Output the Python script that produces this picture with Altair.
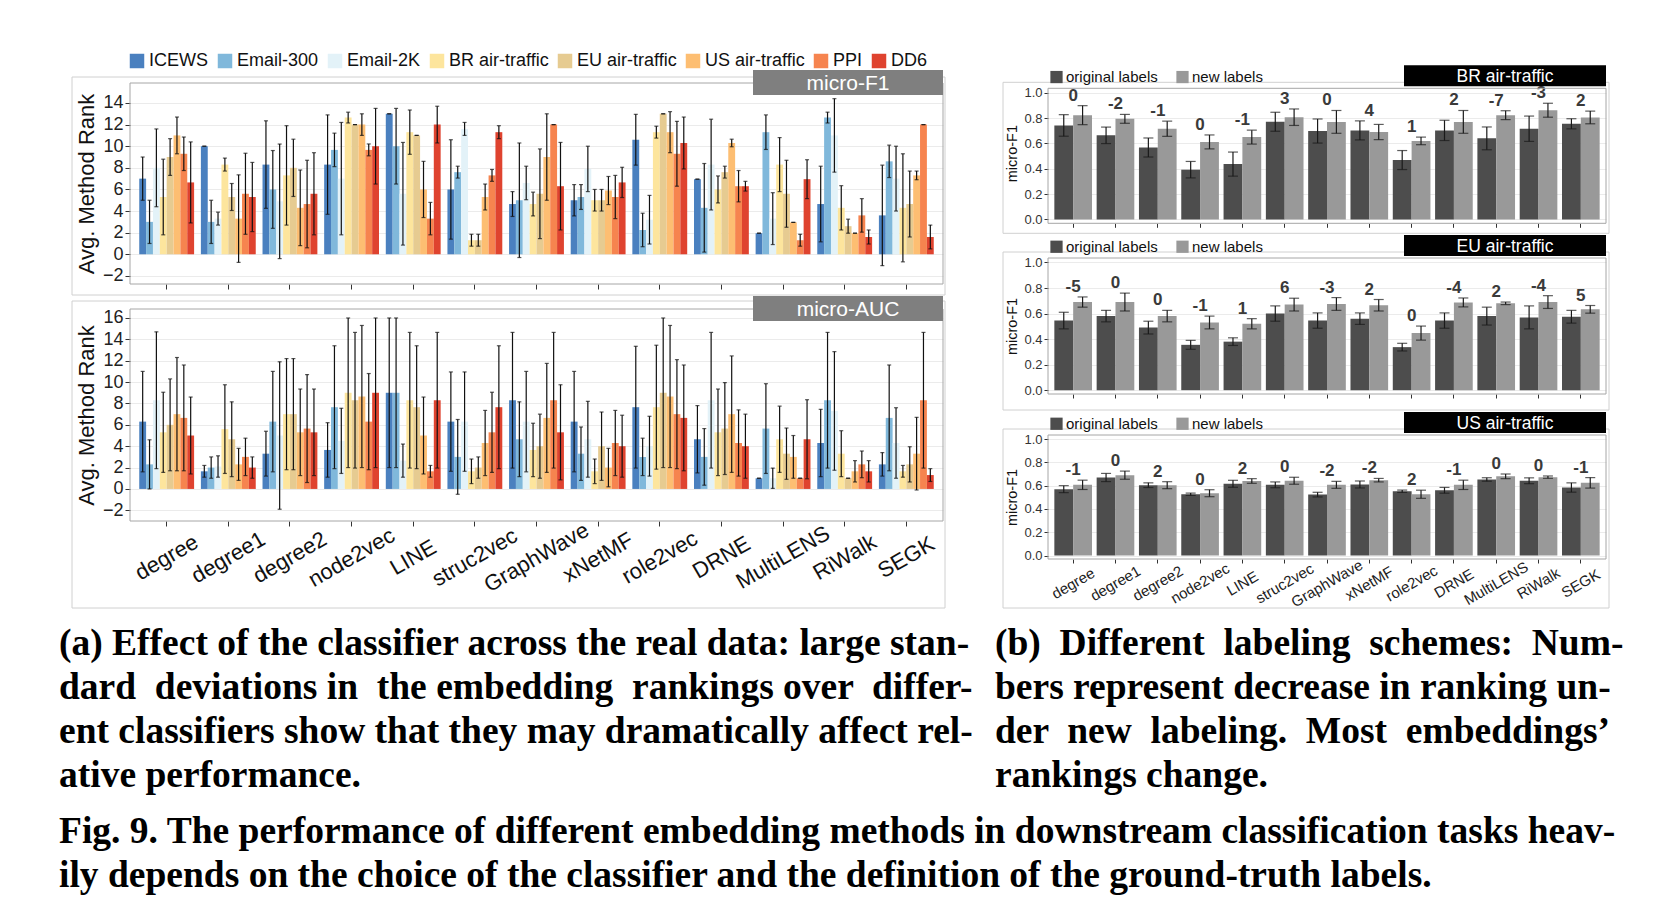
import altair as alt
import pandas as pd

FONT = "Liberation Sans"
SERIF = "Liberation Serif"
NB = "\u00a0"

methods = ["degree", "degree1", "degree2", "node2vec", "LINE", "struc2vec", "GraphWave",
           "xNetMF", "role2vec", "DRNE", "MultiLENS", "RiWalk", "SEGK"]
datasets = ["ICEWS", "Email-300", "Email-2K", "BR air-traffic", "EU air-traffic",
            "US air-traffic", "PPI", "DD6"]
dataset_colors = ["#4a80bf", "#80b8db", "#e3f2f8", "#fde59d", "#e6cb91", "#fdbe72", "#f6844f", "#df432f"]

# ---------------- micro-F1: average method rank (mean, std) ----------------
f1_icews = [7.0, 10.0, 8.3, 8.3, 13.0, 6.0, 4.65, 5.0, 10.6, 6.95, 1.95, 4.65, 3.6]
f1_icews_sd = [2.0, 0.0, 4.05, 4.6, 0.0, 4.6, 1.15, 1.45, 2.35, 0.0, 0.0, 3.5, 4.65]
f1_email300 = [3.0, 3.0, 6.0, 9.66, 10.0, 7.6, 5.0, 5.3, 2.25, 4.3, 11.3, 12.65, 8.6]
f1_email300_sd = [2.0, 2.0, 3.6, 1.55, 3.5, 0.55, 5.3, 1.15, 1.55, 4.1, 1.6, 0.5, 1.5]
f1_email2k = [8.0, 3.3, 4.9, 7.0, 5.6, 11.6, 6.6, 7.9, 3.2, 8.3, 3.3, 11.0, 7.0]
f1_email2k_sd = [3.6, 0.6, 5.3, 5.2, 4.75, 0.6, 1.55, 2.1, 2.25, 4.2, 2.4, 3.4, 3.0]
f1_br = [5.3, 8.3, 7.3, 12.65, 11.3, 1.3, 4.65, 5.0, 11.3, 6.0, 8.3, 4.3, 4.3]
f1_br_sd = [3.5, 0.6, 4.6, 0.5, 2.05, 0.55, 1.1, 1.0, 0.55, 1.25, 2.5, 2.05, 5.0]
f1_eu = [9.0, 5.3, 8.0, 12.0, 11.0, 1.3, 5.6, 5.0, 13.0, 7.6, 5.6, 2.6, 4.65]
f1_eu_sd = [1.7, 1.25, 2.65, 0.0, 0.0, 0.55, 4.15, 1.0, 0.0, 0.55, 3.1, 0.65, 3.05]
f1_us = [11.0, 3.3, 4.3, 12.0, 6.0, 5.3, 9.0, 5.9, 11.3, 10.3, 2.95, 1.95, 7.3]
f1_us_sd = [1.7, 4.05, 3.5, 1.0, 2.6, 1.2, 4.0, 1.3, 1.9, 0.35, 0.0, 0.0, 0.4]
f1_ppi = [9.3, 5.6, 4.65, 9.66, 3.3, 7.3, 12.0, 5.3, 9.3, 6.3, 1.3, 3.6, 12.0]
f1_ppi_sd = [1.55, 3.75, 4.05, 0.55, 1.5, 0.55, 0.0, 2.0, 3.0, 1.45, 0.55, 1.55, 0.0]
f1_dd6 = [6.65, 5.3, 5.6, 10.0, 12.0, 11.3, 6.3, 6.65, 10.3, 6.3, 6.95, 1.6, 1.6]
f1_dd6_sd = [3.75, 3.2, 3.8, 3.5, 1.7, 0.6, 4.05, 1.4, 2.4, 0.45, 1.8, 0.65, 1.1]

# ---------------- micro-AUC: average method rank (mean, std) ----------------
auc_icews = [6.3, 1.65, 3.3, 3.65, 9.0, 6.3, 8.3, 6.3, 7.65, 4.65, 1.0, 4.3, 2.3]
auc_icews_sd = [4.7, 0.55, 2.1, 2.55, 7.0, 4.65, 6.35, 4.7, 5.7, 3.15, 0.0, 3.15, 1.1]
auc_email300 = [2.3, 2.0, 6.3, 7.65, 9.0, 3.0, 4.65, 3.3, 3.0, 3.0, 5.65, 8.3, 6.65]
auc_email300_sd = [2.3, 1.0, 4.7, 5.75, 7.0, 3.5, 3.5, 2.5, 1.75, 2.65, 4.2, 6.35, 4.95]
auc_email2k = [8.3, 2.1, 5.0, 4.5, 2.65, 6.3, 6.3, 4.65, 4.0, 8.3, 1.0, 7.3, 4.3]
auc_email2k_sd = [6.4, 1.0, 6.9, 3.05, 1.55, 4.65, 4.7, 3.55, 2.8, 6.35, 0.95, 5.55, 3.3]
auc_br = [5.3, 5.6, 7.0, 9.0, 8.3, 1.65, 3.65, 1.65, 7.65, 5.3, 4.65, 3.3, 1.65]
auc_br_sd = [3.75, 4.15, 5.2, 7.0, 6.35, 1.15, 2.5, 1.15, 5.8, 4.05, 3.1, 2.15, 0.55]
auc_eu = [6.0, 4.65, 7.0, 8.3, 7.65, 2.0, 4.0, 4.0, 9.0, 5.65, 3.3, 1.0, 2.3]
auc_eu_sd = [4.3, 3.5, 5.2, 6.35, 5.75, 1.0, 3.0, 3.2, 7.0, 4.3, 2.4, 0.0, 1.65]
auc_us = [7.0, 2.3, 5.3, 8.65, 5.0, 4.3, 6.65, 2.0, 8.65, 7.0, 3.0, 1.65, 3.3]
auc_us_sd = [5.3, 1.5, 4.05, 6.65, 3.6, 3.05, 5.1, 1.8, 6.65, 5.45, 2.0, 1.0, 3.4]
auc_ppi = [6.65, 3.0, 5.65, 6.3, 1.65, 5.3, 8.3, 4.3, 7.0, 4.3, 1.0, 2.3, 8.3]
auc_ppi_sd = [4.95, 1.75, 5.05, 4.5, 0.55, 3.75, 6.35, 3.05, 5.1, 3.1, 0.0, 1.25, 6.35]
auc_dd6 = [5.0, 2.0, 5.3, 9.0, 8.3, 7.65, 5.3, 4.0, 6.65, 4.0, 4.65, 1.65, 1.3]
auc_dd6_sd = [3.6, 1.0, 4.05, 7.0, 6.35, 5.75, 4.45, 2.9, 4.95, 3.0, 3.7, 1.0, 0.6]

# ---------------- labeling schemes: micro-F1 ----------------
schemes = ["original labels", "new labels"]
scheme_colors = ["#4d4d4d", "#999999"]

br_orig = [0.742, 0.664, 0.568, 0.393, 0.437, 0.771, 0.698, 0.703, 0.469, 0.703, 0.64, 0.716, 0.755]
br_orig_sd = [0.085, 0.065, 0.075, 0.065, 0.095, 0.075, 0.095, 0.075, 0.075, 0.08, 0.09, 0.1, 0.04]
br_new = [0.823, 0.794, 0.716, 0.612, 0.65, 0.807, 0.77, 0.69, 0.62, 0.77, 0.823, 0.862, 0.805]
br_new_sd = [0.075, 0.035, 0.06, 0.055, 0.055, 0.065, 0.09, 0.06, 0.03, 0.09, 0.035, 0.055, 0.05]
br_change = [0, -2, -1, 0, -1, 3, 0, 4, 1, 2, -7, -3, 2]

eu_orig = [0.545, 0.58, 0.49, 0.355, 0.38, 0.60, 0.545, 0.56, 0.337, 0.545, 0.58, 0.57, 0.575]
eu_orig_sd = [0.065, 0.045, 0.05, 0.035, 0.03, 0.06, 0.06, 0.045, 0.03, 0.06, 0.07, 0.09, 0.05]
eu_new = [0.69, 0.69, 0.58, 0.53, 0.52, 0.67, 0.675, 0.665, 0.447, 0.687, 0.68, 0.69, 0.633]
eu_new_sd = [0.04, 0.07, 0.045, 0.05, 0.04, 0.05, 0.05, 0.045, 0.055, 0.035, 0.01, 0.05, 0.03]
eu_change = [-5, 0, 0, -1, 1, 6, -3, 2, 0, -4, 2, -4, 5]

us_orig = [0.57, 0.67, 0.604, 0.526, 0.616, 0.607, 0.523, 0.61, 0.552, 0.56, 0.653, 0.642, 0.584]
us_orig_sd = [0.03, 0.035, 0.02, 0.01, 0.03, 0.025, 0.02, 0.03, 0.01, 0.025, 0.015, 0.025, 0.04]
us_new = [0.607, 0.69, 0.604, 0.535, 0.64, 0.642, 0.607, 0.647, 0.526, 0.607, 0.68, 0.673, 0.624]
us_new_sd = [0.04, 0.035, 0.03, 0.03, 0.02, 0.03, 0.03, 0.015, 0.035, 0.04, 0.02, 0.01, 0.045]
us_change = [-1, 0, 2, 0, 2, 0, -2, -2, 2, -1, 0, 0, -1]

caption_a = ("(a) Effect of the classifier across the real data: large stan-\n"
             f"dard {NB}deviations in {NB}the embedding {NB}rankings over {NB}differ-\n"
             "ent classifiers show that they may dramatically affect rel-\n"
             "ative performance.")
caption_b = (f"(b) {NB}Different {NB}labeling {NB}schemes: {NB}Num-\n"
             "bers represent decrease in ranking un-\n"
             f"der {NB}new {NB}labeling. {NB}Most {NB}embeddings\u2019\n"
             "rankings change.")
caption_fig = ("Fig. 9.  The performance of different embedding methods in downstream classification tasks heav-\n"
               "ily depends on the choice of the classifier and the definition of the ground-truth labels.")


# ---------------- tables ----------------
def rank_table(means, sds):
    rows = []
    for d, ml, sl in zip(datasets, means, sds):
        for m, v, s in zip(methods, ml, sl):
            rows.append({"method": m, "dataset": d, "mean": v, "lo": v - s, "hi": v + s})
    return pd.DataFrame(rows)


def label_table(orig, orig_sd, new, new_sd):
    rows = []
    for i, m in enumerate(methods):
        rows.append({"method": m, "scheme": schemes[0], "value": orig[i],
                     "lo": orig[i] - orig_sd[i], "hi": orig[i] + orig_sd[i]})
        rows.append({"method": m, "scheme": schemes[1], "value": new[i],
                     "lo": new[i] - new_sd[i], "hi": new[i] + new_sd[i]})
    return pd.DataFrame(rows)


def change_table(orig, orig_sd, new, new_sd, change):
    return pd.DataFrame({
        "method": methods,
        "top": [max(o + a, n + b) for o, a, n, b in zip(orig, orig_sd, new, new_sd)],
        "change": [str(c) for c in change],
    })


f1_df = rank_table([f1_icews, f1_email300, f1_email2k, f1_br, f1_eu, f1_us, f1_ppi, f1_dd6],
                   [f1_icews_sd, f1_email300_sd, f1_email2k_sd, f1_br_sd, f1_eu_sd, f1_us_sd, f1_ppi_sd, f1_dd6_sd])
auc_df = rank_table([auc_icews, auc_email300, auc_email2k, auc_br, auc_eu, auc_us, auc_ppi, auc_dd6],
                    [auc_icews_sd, auc_email300_sd, auc_email2k_sd, auc_br_sd, auc_eu_sd, auc_us_sd, auc_ppi_sd, auc_dd6_sd])

XSCALE = dict(paddingInner=0.11, paddingOuter=0.15)
GRID = "#ebebeb"
FRAME = "#d0d0d0"
BORDER = "#a6a6a6"
INDEP = dict(color="independent", x="independent", y="independent", xOffset="independent")


def decorations(strip_text, strip_box, strip_color, strip_font, frame_box, border_box, cover=None):
    d = pd.DataFrame({"label": [strip_text]})
    c = alt.Chart(d)
    fx, fx2, fy, fy2 = frame_box
    sx, sx2, sy, sy2 = strip_box
    bx, bx2, by, by2 = border_box
    layers = []
    if cover is not None:
        cx, cx2, cy, cy2 = cover
        layers.append(c.mark_rect(color="white").encode(
            x=alt.value(cx), x2=alt.value(cx2), y=alt.value(cy), y2=alt.value(cy2)))
    layers += [
        c.mark_rect(fillOpacity=0, stroke=FRAME, strokeWidth=1).encode(
            x=alt.value(fx), x2=alt.value(fx2), y=alt.value(fy), y2=alt.value(fy2)),
        c.mark_rect(fillOpacity=0, stroke=BORDER, strokeWidth=1).encode(
            x=alt.value(bx), x2=alt.value(bx2), y=alt.value(by), y2=alt.value(by2)),
        c.mark_rect(color=strip_color).encode(
            x=alt.value(sx), x2=alt.value(sx2), y=alt.value(sy), y2=alt.value(sy2)),
        c.mark_text(color="white", fontSize=strip_font, font=FONT, baseline="middle").encode(
            x=alt.value((sx + sx2) / 2), y=alt.value((sy + sy2) / 2 + 1), text="label:N"),
    ]
    return layers


# ---------------- left panels ----------------
LW = 813


def rank_panel(df, domain, ticks, height, strip_text, show_labels, legend, frame_box):
    xenc = alt.X("method:N", sort=methods, title=None, scale=alt.Scale(**XSCALE),
                 axis=alt.Axis(labels=show_labels, labelAngle=-30, labelAlign="center",
                               labelBaseline="middle", labelPadding=31, labelFontSize=22,
                               labelColor="#111", tickSize=5, tickColor="#333", domain=False,
                               gridColor=GRID, labelOverlap=False))
    off = alt.XOffset("dataset:N", sort=datasets,
                      scale=alt.Scale(domain=datasets, paddingInner=0, paddingOuter=0))
    ysc = alt.Scale(domain=domain, nice=False, zero=False)
    yax = alt.Axis(values=ticks, labelFontSize=18, labelColor="#222", tickSize=5, tickColor="#333",
                   domain=False, gridColor=GRID, titleFontSize=22, titleFontWeight="normal",
                   titleColor="#111", titlePadding=4, labelOverlap=False, labelFlush=False)
    ttl = "Avg. Method Rank"
    base = alt.Chart(df).encode(x=xenc, xOffset=off)
    bars = base.mark_bar().encode(
        y=alt.Y("mean:Q", stack=None, scale=ysc, axis=yax, title=ttl),
        color=alt.Color("dataset:N", sort=datasets,
                        scale=alt.Scale(domain=datasets, range=dataset_colors), legend=legend))
    rule = base.mark_rule(color="#111", strokeWidth=1.2).encode(
        y=alt.Y("lo:Q", title=ttl, axis=yax, scale=ysc), y2="hi:Q")
    cap_lo = base.mark_tick(color="#111", thickness=1.2, size=4).encode(
        y=alt.Y("lo:Q", title=ttl, axis=yax, scale=ysc))
    cap_hi = base.mark_tick(color="#111", thickness=1.2, size=4).encode(
        y=alt.Y("hi:Q", title=ttl, axis=yax, scale=ysc))
    deco = decorations(strip_text, (LW - 190, LW, -13, 12), "#7f7f7f", 21, frame_box,
                       (0, LW, 0, height))
    return alt.layer(bars, rule, cap_lo, cap_hi, *deco).properties(width=LW, height=height)


left_legend = alt.Legend(orient="none", legendX=-2, legendY=-31, direction="horizontal", title=None,
                         symbolType="square", symbolSize=210, symbolStrokeWidth=0, labelFontSize=18,
                         labelFont=FONT, labelColor="#111", columnPadding=7, labelOffset=3, padding=0)

f1_chart = rank_panel(f1_df, [-2.75, 15.85], list(range(-2, 15, 2)), 201, "micro-F1", False,
                      left_legend, (-58, LW + 2, -6, 212))
auc_chart = rank_panel(auc_df, [-3.0, 16.84], list(range(-2, 17, 2)), 212, "micro-AUC", True,
                       None, (-58, LW + 2, -8, 299))

left = alt.vconcat(f1_chart, auc_chart, spacing=0).resolve_scale(**INDEP).resolve_legend(color="independent")

# ---------------- right panels ----------------
RW = 558
YLO, YHI = -0.03, 1.035


def label_panel(orig, orig_sd, new, new_sd, change, height, strip_text, show_labels, frame_bottom,
                shift=0.0):
    df = label_table(orig, orig_sd, new, new_sd)
    cdf = change_table(orig, orig_sd, new, new_sd, change)
    xax = alt.Axis(labels=show_labels, labelAngle=-30, labelAlign="center",
                   labelBaseline="middle", labelPadding=20, labelFontSize=15,
                   labelColor="#222", tickSize=4, tickColor="#333", domain=False,
                   gridColor=GRID, labelOverlap=False)
    xenc = alt.X("method:N", sort=methods, title=None, scale=alt.Scale(**XSCALE), axis=xax)
    off = alt.XOffset("scheme:N", sort=schemes,
                      scale=alt.Scale(domain=schemes, paddingInner=0, paddingOuter=0))
    top = YHI + shift * (YHI - YLO) / height
    ysc = alt.Scale(domain=[YLO, top], nice=False, zero=False)
    yax = alt.Axis(values=[0, 0.2, 0.4, 0.6, 0.8, 1.0], format=".1f", labelFontSize=13,
                   labelColor="#333", tickSize=4, tickColor="#333", domain=False, gridColor=GRID,
                   titleFontSize=14.5, titleFontWeight="normal", titleColor="#111", titlePadding=4,
                   labelOverlap=False, labelFlush=False)
    ttl = "micro-F1"
    base = alt.Chart(df).encode(x=xenc, xOffset=off)
    legend = alt.Legend(orient="none", legendX=1, legendY=-19 + shift, direction="horizontal", title=None,
                        symbolType="square", symbolSize=150, symbolStrokeWidth=0, labelFontSize=15,
                        labelFont=FONT, labelColor="#111", columnPadding=17, labelOffset=2, padding=0)
    bars = base.mark_bar().encode(
        y=alt.Y("value:Q", stack=None, scale=ysc, axis=yax, title=ttl),
        color=alt.Color("scheme:N", sort=schemes,
                        scale=alt.Scale(domain=schemes, range=scheme_colors), legend=legend))
    rule = base.mark_rule(color="#1a1a1a", strokeWidth=1.2).encode(
        y=alt.Y("lo:Q", title=ttl, axis=yax, scale=ysc), y2="hi:Q")
    cap_lo = base.mark_tick(color="#1a1a1a", thickness=1.2, size=10).encode(
        y=alt.Y("lo:Q", title=ttl, axis=yax, scale=ysc))
    cap_hi = base.mark_tick(color="#1a1a1a", thickness=1.2, size=10).encode(
        y=alt.Y("hi:Q", title=ttl, axis=yax, scale=ysc))
    nums = alt.Chart(cdf).mark_text(fontSize=17, fontWeight="bold", color="#3a3a3a", font=FONT,
                                    baseline="middle", dy=-10).encode(
        x=xenc, y=alt.Y("top:Q", title=ttl, axis=yax, scale=ysc), text="change:N")
    total_h = height + shift
    cover = (-1, RW + 1, -1, shift - 0.5) if shift > 0 else None
    deco = decorations(strip_text, (RW - 202, RW, -23 + shift, -2 + shift), "#000000", 17.5,
                       (-45, RW + 3, -6 + shift, frame_bottom + shift), (0, RW, shift, total_h), cover)
    layers = [bars, rule, cap_lo, cap_hi, nums]
    if cover is not None:
        layers = [deco[0]] + layers + deco[1:]
    else:
        layers = layers + deco
    return alt.layer(*layers).properties(width=RW, height=total_h)


br_chart = label_panel(br_orig, br_orig_sd, br_new, br_new_sd, br_change, 135, "BR air-traffic",
                       False, 145, shift=5.3)
eu_chart = label_panel(eu_orig, eu_orig_sd, eu_new, eu_new_sd, eu_change, 136, "EU air-traffic",
                       False, 152)
us_chart = label_panel(us_orig, us_orig_sd, us_new, us_new_sd, us_change, 124, "US air-traffic",
                       True, 173)

right = alt.vconcat(br_chart, eu_chart, us_chart, spacing=1).resolve_scale(**INDEP).resolve_legend(
    color="independent")

top = alt.hconcat(left, right, spacing=56).resolve_scale(**INDEP).resolve_legend(color="independent")

# ---------------- captions ----------------
cap_style = dict(align="left", baseline="top", font=SERIF, fontSize=37.5, fontWeight="bold",
                 color="#000000", lineBreak="\n", lineHeight=44)
cap_a = alt.Chart(pd.DataFrame({"t": [caption_a]})).mark_text(**cap_style).encode(
    x=alt.value(-71), y=alt.value(0), text="t:N")
cap_b = alt.Chart(pd.DataFrame({"t": [caption_b]})).mark_text(**cap_style).encode(
    x=alt.value(865), y=alt.value(0), text="t:N")
cap_f = alt.Chart(pd.DataFrame({"t": [caption_fig]})).mark_text(**cap_style).encode(
    x=alt.value(-71), y=alt.value(188), text="t:N")
captions = alt.layer(cap_a, cap_b, cap_f).properties(width=1470, height=262)

chart = alt.vconcat(top, captions, spacing=15).resolve_scale(**INDEP).resolve_legend(
    color="independent").properties(
    padding={"left": 51, "top": 44, "right": 5, "bottom": 5}, background="white"
).configure_view(stroke=None).configure_axis(
    labelFont=FONT, titleFont=FONT).configure_legend(labelFont=FONT)

chart.save("out.html", embed_options={"renderer": "svg", "actions": False})
